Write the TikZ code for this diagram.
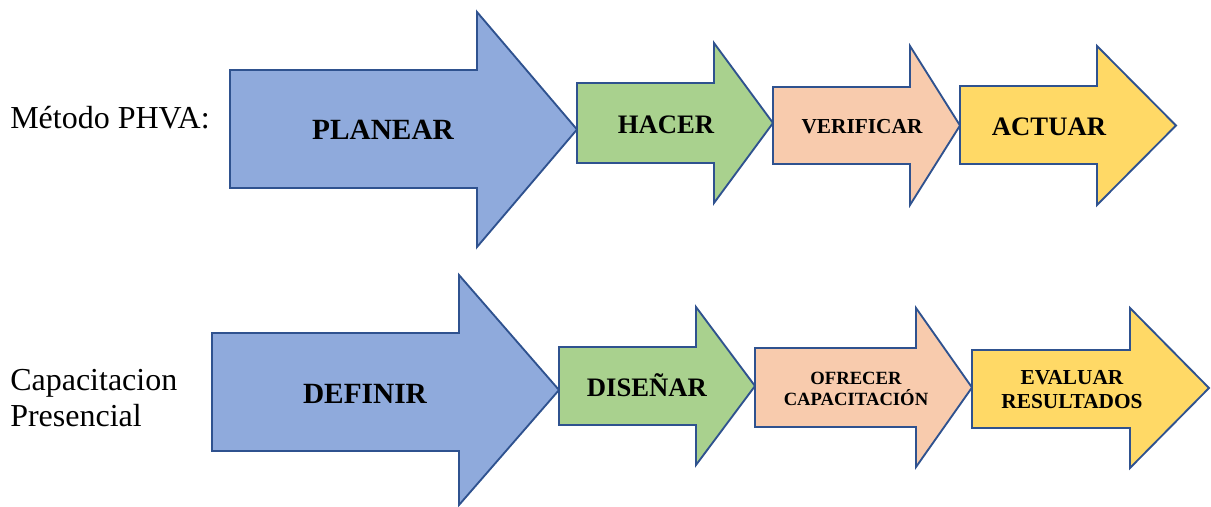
\documentclass[tikz,border=0pt]{standalone}
\usepackage{fontspec}
\setmainfont{Liberation Serif}
\usepackage{xcolor}
\usepackage{tikz}
\definecolor{borde}{HTML}{2F528F}
\definecolor{azul}{HTML}{8FAADC}
\definecolor{verde}{HTML}{A9D18E}
\definecolor{salmon}{HTML}{F8CBAD}
\definecolor{amarillo}{HTML}{FFD966}

\begin{document}
\begin{tikzpicture}[
  x=0.75pt, y=-0.75pt,
  fase/.style={draw=borde, line width=1.4pt, line join=miter},
  rotulo/.style 2 args={font=\bfseries\fontsize{#1}{#2}\selectfont, align=center, inner sep=0pt},
  titulo/.style={font=\fontsize{24}{27}\selectfont, align=left, inner sep=0pt}
]
\useasboundingbox (0,0) rectangle (1211,507);

% fila superior: metodo PHVA
\node[titulo, anchor=base west] (phva) at (10,128) {Método PHVA:};
\draw[fase, fill=azul] (230,70) -- (477,70) -- (477,12) -- (577,129.5) -- (477,247) -- (477,188) -- (230,188) -- cycle;
\draw[fase, fill=verde] (577,83) -- (714,83) -- (714,43) -- (773,123) -- (714,203) -- (714,163) -- (577,163) -- cycle;
\draw[fase, fill=salmon] (773,87) -- (910,87) -- (910,46) -- (960,125.5) -- (910,205) -- (910,164) -- (773,164) -- cycle;
\draw[fase, fill=amarillo] (960,86) -- (1097,86) -- (1097,46) -- (1176,125.5) -- (1097,205) -- (1097,164) -- (960,164) -- cycle;
\node[rotulo={22}{26}, anchor=base] (planear) at (383,139) {PLANEAR};
\node[rotulo={20}{24}, anchor=base] (hacer) at (666,133) {HACER};
\node[rotulo={16}{19}, anchor=base] (verificar) at (862,133) {VERIFICAR};
\node[rotulo={20}{24}, anchor=base] (actuar) at (1049,135) {ACTUAR};

% fila inferior: capacitacion presencial
\node[titulo, anchor=west] (presencial) at (10,398) {Capacitacion\\Presencial};
\draw[fase, fill=azul] (212,333) -- (459,333) -- (459,275) -- (559,390) -- (459,505) -- (459,451) -- (212,451) -- cycle;
\draw[fase, fill=verde] (559,347) -- (696,347) -- (696,307) -- (755,386) -- (696,465) -- (696,425) -- (559,425) -- cycle;
\draw[fase, fill=salmon] (755,348) -- (916,348) -- (916,308) -- (972,387.5) -- (916,467) -- (916,427) -- (755,427) -- cycle;
\draw[fase, fill=amarillo] (972,350) -- (1130,350) -- (1130,308) -- (1209,388) -- (1130,468) -- (1130,428) -- (972,428) -- cycle;
\node[rotulo={22}{26}, anchor=base] (definir) at (365,403) {DEFINIR};
\node[rotulo={20}{24}, anchor=base] (disenar) at (647,396) {DISEÑAR};
\node[rotulo={14}{16}] (ofrecer) at (856,389) {OFRECER\\CAPACITACIÓN};
\node[rotulo={16}{18}] (evaluar) at (1072,389.5) {EVALUAR\\RESULTADOS};
\end{tikzpicture}
\end{document}
